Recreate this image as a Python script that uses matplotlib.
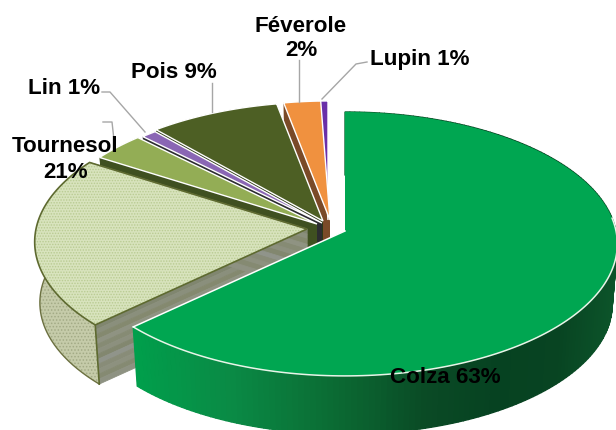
import numpy as np
import matplotlib
matplotlib.use('Agg')
import matplotlib.pyplot as plt
from matplotlib.patches import Polygon

# parts of the pie, clockwise from 12 o'clock
cultures = ['Colza', 'Tournesol', 'Autre', 'Lin', 'Pois', 'Féverole', 'Lupin']
parts = [63.0, 21.0, 3.5, 1.0, 8.5, 2.4, 0.6]

top_colors = ['#00a651', '#d8e3bd', '#93ad55', '#8a66b4', '#4d5f24', '#f0913f', '#6a2fa8']
wall_colors = ['#00803c', '#c5cba9', '#3f5020', '#2c2c30', '#2c3814', '#7a4a28', '#3c2060']
# where each slice apex ended up on the image (exploded pie)
centers = [(345, 232), (307, 230), (317, 225), (322, 224), (323, 222), (330, 221), (328, 221)]

RX, RY = 271, 130.7
PERSP = 0.098
DEPTH = 61
SHRINK = 0.981

plt.rcParams['font.family'] = ['Liberation Sans', 'DejaVu Sans']
plt.rcParams['hatch.linewidth'] = 0.7

fig = plt.figure(figsize=(6.16, 4.31), dpi=100)
ax = fig.add_axes([0, 0, 1, 1])
ax.set_xlim(0, 616)
ax.set_ylim(431, 0)
ax.axis('off')


def project(center, theta, r=1.0, bottom=False):
    u = r * np.sin(theta)
    v = r * np.cos(theta)
    d = 1 + PERSP * v
    s = SHRINK if bottom else 1.0
    x = center[0] + RX * u / d * s
    y = center[1] - RY * v / d * s + (DEPTH if bottom else 0)
    return np.column_stack([x, y])


def colza_shade(x):
    xs = [130, 233, 340, 430, 500, 560, 616]
    rs = [0, 10, 11, 10, 6, 8, 12]
    gs = [160, 138, 106, 74, 66, 68, 84]
    bs = [76, 69, 51, 37, 33, 34, 42]
    return (np.interp(x, xs, rs) / 255, np.interp(x, xs, gs) / 255, np.interp(x, xs, bs) / 255)


def draw_cut(i, center, th):
    quad = np.vstack([project(center, np.array([0.0]), 0.0),
                      project(center, np.array([th])),
                      project(center, np.array([th]), bottom=True),
                      project(center, np.array([0.0]), 0.0, bottom=True)])
    if cultures[i] == 'Tournesol':
        # striped grey cut face
        greys = ['#80866f', '#8a8f7c', '#84896f', '#8f9382', '#868b74', '#8c907e', '#82876f', '#90948a',
                 '#888c78', '#8d917f', '#858a72', '#8e9282']
        n = len(greys)
        for k in range(n):
            a, b = k / n, (k + 1) / n
            strip = [quad[0] + (quad[3] - quad[0]) * a, quad[1] + (quad[2] - quad[1]) * a,
                     quad[1] + (quad[2] - quad[1]) * b, quad[0] + (quad[3] - quad[0]) * b]
            ax.add_patch(Polygon(strip, fc=greys[k], ec=greys[k], lw=0.6))
    else:
        ax.add_patch(Polygon(quad, fc=wall_colors[i], ec='none'))


ends = np.cumsum(parts) / sum(parts) * 2 * np.pi
starts = np.concatenate([[0], ends[:-1]])

# back slices first, colza last
for i in [6, 5, 4, 3, 2, 1, 0]:
    c = centers[i]
    th = np.linspace(starts[i], ends[i], 200)
    arc = project(c, th)
    low = project(c, th, bottom=True)
    draw_cut(i, c, starts[i])
    draw_cut(i, c, ends[i])

    if cultures[i] == 'Colza':
        for k in range(len(th) - 1):
            q = [arc[k], arc[k + 1], low[k + 1], low[k]]
            col = colza_shade(arc[k][0])
            ax.add_patch(Polygon(q, fc=col, ec=col, lw=1.0, zorder=4))
    elif cultures[i] == 'Tournesol':
        wall = Polygon(np.vstack([arc, low[::-1]]), fc=wall_colors[i], ec='#a3aa85', lw=0, hatch='.....', zorder=2)
        ax.add_patch(wall)
        ax.plot(low[:, 0], low[:, 1], color='#6b7040', lw=1.0, zorder=2)
        ax.plot([arc[0][0], low[0][0]], [arc[0][1], low[0][1]], color='#5e6a30', lw=1.2, zorder=3)
    else:
        ax.add_patch(Polygon(np.vstack([arc, low[::-1]]), fc=wall_colors[i], ec='none'))

    top = np.vstack([project(c, np.array([0.0]), 0.0), arc])
    if cultures[i] == 'Tournesol':
        ax.add_patch(Polygon(top, fc=top_colors[i], ec='#b9cb92', lw=0, hatch='......', zorder=3))
        ax.add_patch(Polygon(top, fill=False, ec='#5e6a30', lw=1.2, zorder=3))
    elif cultures[i] == 'Colza':
        ax.add_patch(Polygon(top, fc=top_colors[i], ec='none', zorder=4))
        # pale rim only along the front of the slice
        front = np.cos(th) < 0.1
        ax.plot(arc[front, 0], arc[front, 1], color='#e8f5e8', lw=1.1, zorder=4)
        ax.plot(top[[0, -1], 0], top[[0, -1], 1], color='white', lw=1.1, zorder=4)
    else:
        ax.add_patch(Polygon(top, fc=top_colors[i], ec='white', lw=1.0, zorder=3))

# leader lines
leader = dict(color='#a6a6a6', lw=1.0, zorder=5)
ax.plot([212, 212], [84, 113], **leader)
ax.plot([299, 299], [61, 103], **leader)
ax.plot([367, 356, 322], [63, 65, 100], **leader)
ax.plot([102, 110, 145], [93, 93, 133], **leader)
ax.plot([103, 112, 115], [123, 123, 150], **leader)

# labels
label = dict(fontsize=16.1, fontweight='bold', color='black', ha='center', va='center', zorder=6)
ax.text(301, 26, 'Féverole', **label)
ax.text(301, 50, '2%', **label)
ax.text(420, 60, 'Lupin 1%', **label)
ax.text(174, 73, 'Pois 9%', **label)
ax.text(64, 88, 'Lin 1%', **label)
ax.text(65, 147, 'Tournesol', **label)
ax.text(66, 173, '21%', **label)
ax.text(445, 378, 'Colza 63%', **label)

fig.savefig('out.png', dpi=100)
